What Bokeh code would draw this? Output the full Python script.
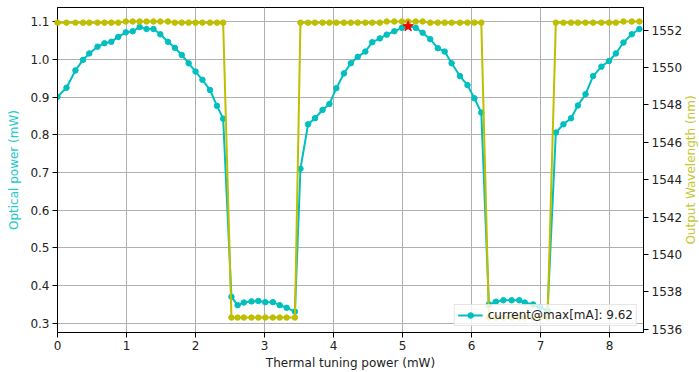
import math
from bokeh.plotting import figure
from bokeh.models import (Range1d, LinearAxis, Legend, LegendItem, FixedTicker,
                          NumeralTickFormatter, ColumnDataSource, Label)
from bokeh.embed import file_html
from bokeh.resources import INLINE

# ---------------- data ----------------
power_mw = [
    0.00, 0.13, 0.26, 0.37, 0.46, 0.58, 0.68, 0.78, 0.88, 0.99, 1.09, 1.19,
    1.29, 1.39, 1.49, 1.60, 1.70, 1.80, 1.90, 2.00, 2.10, 2.21, 2.31, 2.40,
    2.52, 2.61, 2.70, 2.81, 2.91, 3.01, 3.12, 3.22, 3.32, 3.44,
    3.52, 3.63, 3.73, 3.84, 3.94, 4.04, 4.15, 4.25, 4.35, 4.46, 4.56, 4.67,
    4.77, 4.88, 4.99, 5.08, 5.19, 5.29, 5.40, 5.51, 5.61, 5.71, 5.83, 5.94,
    6.04, 6.14,
    6.25, 6.35, 6.46, 6.58, 6.69, 6.77, 6.89, 6.99, 7.10,
    7.22, 7.33, 7.44, 7.54, 7.65, 7.76, 7.88, 7.99, 8.09, 8.20, 8.32, 8.43,
]
optical_power_mw = [
    0.901, 0.925, 0.971, 0.999, 1.016, 1.034, 1.043, 1.047, 1.060, 1.072, 1.075, 1.086,
    1.081, 1.081, 1.067, 1.047, 1.031, 1.012, 0.990, 0.968, 0.946, 0.919, 0.877, 0.843,
    0.370, 0.348, 0.355, 0.358, 0.359, 0.356, 0.356, 0.348, 0.341, 0.331,
    0.710, 0.828, 0.844, 0.866, 0.882, 0.924, 0.963, 0.990, 1.007, 1.021, 1.046, 1.056,
    1.066, 1.075, 1.084, 1.088, 1.084, 1.071, 1.054, 1.030, 1.021, 0.990, 0.956, 0.932,
    0.897, 0.859,
    0.350, 0.357, 0.361, 0.361, 0.361, 0.355, 0.350, 0.343, 0.333,
    0.806, 0.828, 0.844, 0.878, 0.908, 0.956, 0.981, 0.996, 1.016, 1.045, 1.067, 1.081,
]
wavelength_nm = [
    1552.40, 1552.40, 1552.40, 1552.40, 1552.40, 1552.40, 1552.40, 1552.40, 1552.40, 1552.46, 1552.46, 1552.46,
    1552.46, 1552.46, 1552.46, 1552.46, 1552.40, 1552.40, 1552.40, 1552.40, 1552.40, 1552.40, 1552.40, 1552.40,
    1536.62, 1536.62, 1536.62, 1536.62, 1536.62, 1536.62, 1536.62, 1536.62, 1536.62, 1536.62,
    1552.40, 1552.40, 1552.40, 1552.40, 1552.40, 1552.40, 1552.40, 1552.40, 1552.40, 1552.40, 1552.40, 1552.40,
    1552.46, 1552.46, 1552.46, 1552.46, 1552.46, 1552.46, 1552.40, 1552.40, 1552.40, 1552.40, 1552.40, 1552.40,
    1552.40, 1552.40,
    1536.62, 1536.62, 1536.62, 1536.62, 1536.62, 1536.62, 1536.62, 1536.62, 1536.62,
    1552.40, 1552.40, 1552.40, 1552.40, 1552.40, 1552.40, 1552.40, 1552.40, 1552.40, 1552.46, 1552.46, 1552.46,
]
legend_label = "current@max[mA]: 9.62"
right_axis_label = "Output Wavelength (nm)"
x_ticks = [0, 1, 2, 3, 4, 5, 6, 7, 8]
left_ticks = [0.3, 0.4, 0.5, 0.6, 0.7, 0.8, 0.9, 1.0, 1.1]
right_ticks = [1536, 1538, 1540, 1542, 1544, 1546, 1548, 1550, 1552]

imax = max(range(len(optical_power_mw)), key=lambda i: optical_power_mw[i])
max_x = [power_mw[imax]]
max_y = [optical_power_mw[imax]]

CYAN = "#00bfbf"
YELLOW = "#bfbf00"
FONT = "DejaVu Sans"
FS = "12px"

X0, X1 = 0, 8.49
Y0, Y1 = 0.2754, 1.138

src = ColumnDataSource(dict(x=power_mw, p=optical_power_mw, wl=wavelength_nm))

p = figure(width=699, height=372, output_backend="svg", toolbar_location=None,
           x_range=Range1d(X0, X1), y_range=Range1d(Y0, Y1),
           min_border_left=57, min_border_right=54, min_border_top=7,
           min_border_bottom=39)
p.extra_y_ranges = {"wl": Range1d(1535.82, 1553.21)}

p.outline_line_color = "black"
p.outline_line_width = 1
p.background_fill_color = "white"

for g in (p.xgrid, p.ygrid):
    g.grid_line_color = "#b0b0b0"
    g.grid_line_width = 1

p.xaxis.ticker = FixedTicker(ticks=x_ticks)
p.yaxis.ticker = FixedTicker(ticks=left_ticks)
p.yaxis.formatter = NumeralTickFormatter(format="0.0")
p.xaxis.axis_label = "Thermal tuning power (mW)"
p.yaxis.axis_label = "Optical power (mW)"

ax_r = LinearAxis(y_range_name="wl", ticker=FixedTicker(ticks=right_ticks))
p.add_layout(ax_r, "right")

for ax in (p.xaxis[0], p.yaxis[0], ax_r):
    ax.major_label_text_font = FONT
    ax.major_label_text_font_size = FS
    ax.major_label_text_color = "#222222"
    ax.axis_label_text_font = FONT
    ax.axis_label_text_font_size = FS
    ax.axis_label_text_font_style = "normal"
    ax.minor_tick_line_color = None
    ax.major_tick_out = 5
    ax.major_tick_in = 0
    ax.major_label_standoff = 3
    ax.axis_label_standoff = 3
    ax.axis_line_color = "black"
    ax.major_tick_line_color = "black"

p.yaxis.axis_label_standoff = 6

p.xaxis.axis_label_text_color = "#222222"
p.yaxis.axis_label_text_color = "#22c8cc"

# right-hand axis title, reading bottom-to-top like the left one
p.add_layout(Label(x=X1, y=(Y0 + Y1) / 2, x_offset=47, text=right_axis_label,
                   angle=math.pi / 2, text_align="center", text_baseline="middle",
                   text_font=FONT, text_font_size=FS, text_color="#c6c630"),
             "right")

cl = p.line("x", "p", source=src, color=CYAN, line_width=2)
cs = p.scatter("x", "p", source=src, color=CYAN, size=5.5)

yl = p.line("x", "wl", source=src, color=YELLOW, line_width=2, y_range_name="wl")
ys = p.scatter("x", "wl", source=src, color=YELLOW, size=5.5, y_range_name="wl")
yl.level = "overlay"
ys.level = "overlay"

star = p.scatter(max_x, max_y, marker="star", color="red", size=11)
star.level = "overlay"

legend = Legend(items=[LegendItem(label=legend_label, renderers=[cl, cs])],
                location="bottom_right", margin=6, padding=3, spacing=0,
                glyph_width=25, glyph_height=14, label_height=14,
                label_standoff=5, label_text_font=FONT,
                label_text_font_size=FS, label_text_color="#222222",
                border_line_color="#cccccc", background_fill_alpha=0.8)
p.add_layout(legend)

open("out.html", "w").write(file_html(p, INLINE))
